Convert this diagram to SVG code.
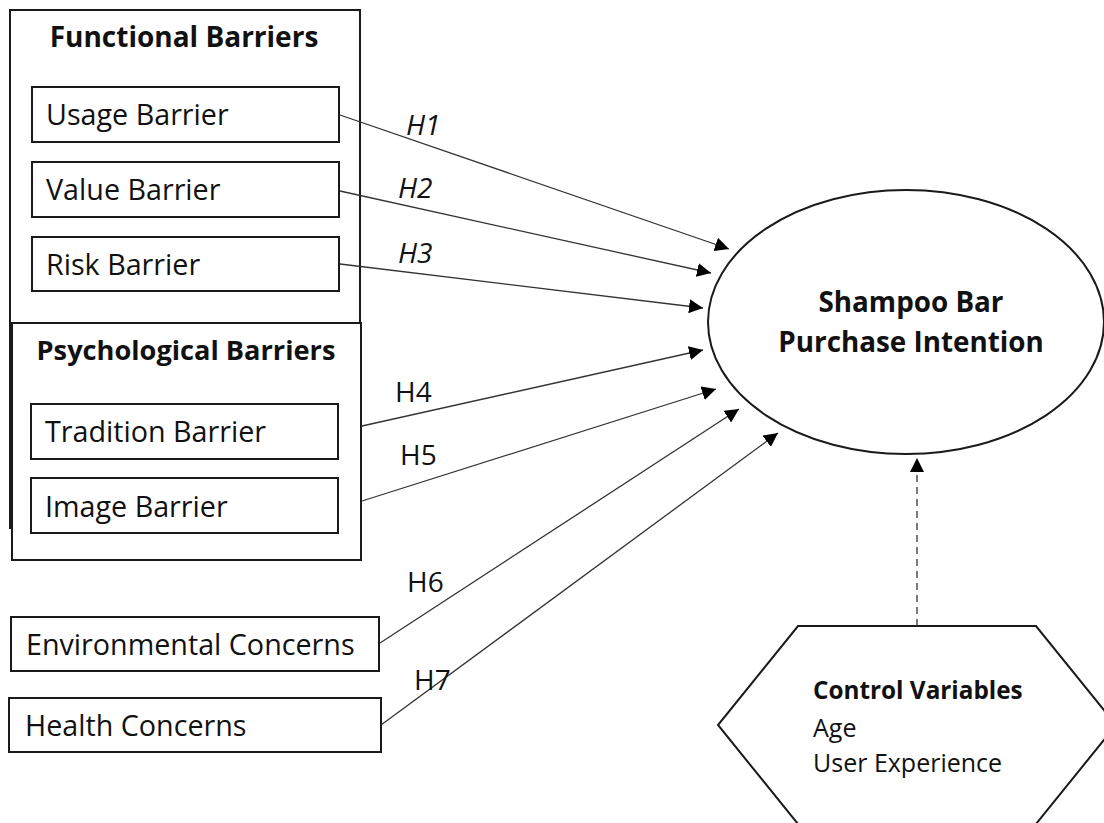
<svg xmlns="http://www.w3.org/2000/svg" width="1104" height="823" viewBox="0 0 1104 823">
<style>
.box{fill:#fff;stroke:#1a1a1a;stroke-width:2}
.t{font-family:"Open Sans",Lato,sans-serif;font-size:28.7px;fill:#111}
.e{font-family:"Open Sans",Lato,sans-serif;font-size:27.8px;font-weight:bold;fill:#111}
.cv{font-family:"Open Sans",Lato,sans-serif;font-size:25px;fill:#111}
.cvb{font-family:"Open Sans",Lato,sans-serif;font-size:24.3px;font-weight:bold;fill:#111}
.title{font-family:"Open Sans",Lato,sans-serif;font-size:28px;font-weight:bold;fill:#111}
.title2{font-family:"Open Sans",Lato,sans-serif;font-size:27.2px;font-weight:bold;fill:#111}
.lab{font-family:"Open Sans",Lato,sans-serif;font-size:28px;fill:#111}
.it{font-style:italic}
.c{stroke:#333;stroke-width:1.3;fill:none;marker-end:url(#ah)}
.d{stroke:#333;stroke-width:1.3;fill:none;stroke-dasharray:7,5;marker-end:url(#ah)}
</style>
<defs>
<marker id="ah" viewBox="0 0 10 10" refX="10" refY="5" markerWidth="14" markerHeight="14" markerUnits="userSpaceOnUse" orient="auto">
<path d="M0,0 L10,5 L0,10 z" fill="#000"/>
</marker>
</defs>
<rect width="1104" height="823" fill="#fff"/>
<g id="functional-barriers">
<rect class="box" x="10" y="10" width="350" height="518"/>
<text class="title" x="184" y="47" text-anchor="middle">Functional Barriers</text>
</g>
<g id="usage-barrier">
<rect class="box" x="32" y="87" width="307" height="55"/>
<text class="t" x="46" y="125">Usage Barrier</text>
</g>
<g id="value-barrier">
<rect class="box" x="32" y="162" width="307" height="55"/>
<text class="t" x="46" y="200">Value Barrier</text>
</g>
<g id="risk-barrier">
<rect class="box" x="32" y="237" width="307" height="54"/>
<text class="t" x="46" y="275">Risk Barrier</text>
</g>
<g id="psychological-barriers">
<rect class="box" x="12" y="323" width="349" height="237"/>
<text class="title2" x="186" y="360" text-anchor="middle">Psychological Barriers</text>
</g>
<g id="tradition-barrier">
<rect class="box" x="31" y="404" width="307" height="55"/>
<text class="t" x="45" y="442">Tradition Barrier</text>
</g>
<g id="image-barrier">
<rect class="box" x="31" y="478" width="307" height="55"/>
<text class="t" x="45" y="517">Image Barrier</text>
</g>
<g id="environmental-concerns">
<rect class="box" x="11" y="617" width="368" height="54"/>
<text class="t" x="26" y="655">Environmental Concerns</text>
</g>
<g id="health-concerns">
<rect class="box" x="9" y="698" width="372" height="54"/>
<text class="t" x="25" y="736">Health Concerns</text>
</g>
<g id="purchase-intention">
<ellipse class="box" cx="906" cy="322" rx="198" ry="132"/>
<text class="e" x="911" y="312" text-anchor="middle">Shampoo Bar</text>
<text class="e" x="911" y="352" text-anchor="middle">Purchase Intention</text>
</g>
<g id="control-variables">
<polygon class="box" points="798,626 1036,626 1116,725 1036,824 798,824 718,725"/>
<text class="cvb" x="813" y="699">Control Variables</text>
<text class="cv" x="813" y="737">Age</text>
<text class="cv" x="813" y="772">User Experience</text>
</g>
<g id="connectors">
<line class="c" x1="340" y1="115" x2="729" y2="249"/>
<line class="c" x1="340" y1="191" x2="711" y2="273"/>
<line class="c" x1="340" y1="264" x2="703" y2="308"/>
<line class="c" x1="362" y1="426" x2="703" y2="350"/>
<line class="c" x1="362" y1="501" x2="716" y2="389"/>
<line class="c" x1="380" y1="643" x2="739" y2="409"/>
<line class="c" x1="381" y1="725" x2="778" y2="433"/>
<line class="d" x1="917" y1="626" x2="917" y2="458"/>
<text class="lab it" x="406" y="135">H1</text>
<text class="lab it" x="398" y="198">H2</text>
<text class="lab it" x="398" y="263">H3</text>
<text class="lab" x="395" y="402">H4</text>
<text class="lab" x="400" y="465">H5</text>
<text class="lab" x="407" y="592">H6</text>
<text class="lab" x="414" y="690">H7</text>
</g>
</svg>
